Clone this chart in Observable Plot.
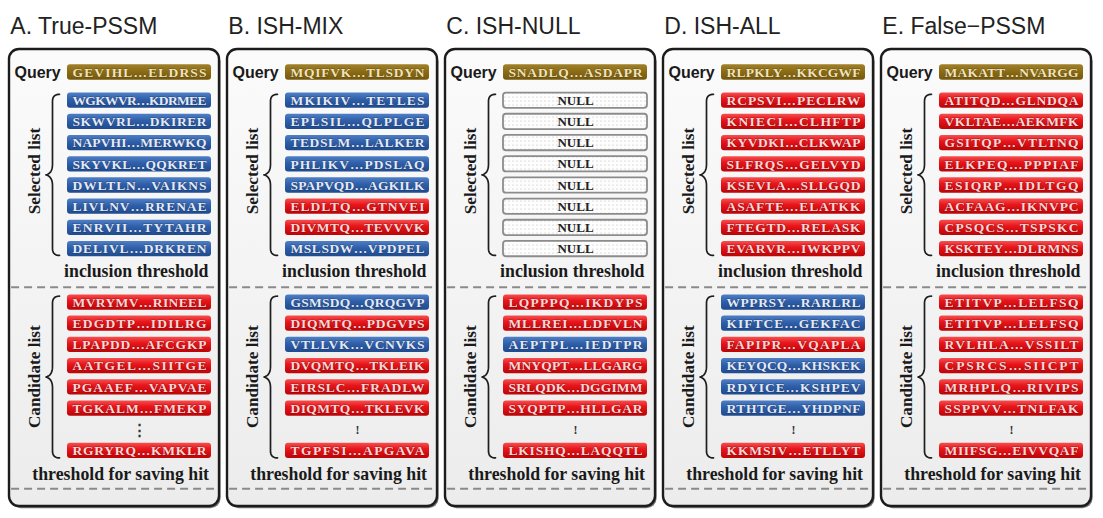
<!DOCTYPE html>
<html><head><meta charset="utf-8">
<script src="https://cdn.jsdelivr.net/npm/d3@7"></script>
<script src="https://cdn.jsdelivr.net/npm/@observablehq/plot@0.6"></script>
<style>body{margin:0;background:#fff}#chart svg{display:block}</style>
</head><body><div id="chart"></div>
<script>
// ---------------- data ----------------
const panelNames = ["A. True-PSSM", "B. ISH-MIX", "C. ISH-NULL", "D. ISH-ALL", "E. False\u2212PSSM"];
const querySeqs = ["GEVIHL…ELDRSS", "MQIFVK…TLSDYN", "SNADLQ…ASDAPR", "RLPKLY…KKCGWF", "MAKATT…NVARGG"];
const selectedSeqs = [
  ["WGKWVR…KDRMEE", "SKWVRL…DKIRER", "NAPVHI…MERWKQ", "SKYVKL…QQKRET", "DWLTLN…VAIKNS", "LIVLNV…RRENAE", "ENRVII…TYTAHR", "DELIVL…DRKREN"],
  ["MKIKIV…TETLES", "EPLSIL…QLPLGE", "TEDSLM…LALKER", "PHLIKV…PDSLAQ", "SPAPVQD…AGKILK", "ELDLTQ…GTNVEI", "DIVMTQ…TEVVVK", "MSLSDW…VPDPEL"],
  ["NULL", "NULL", "NULL", "NULL", "NULL", "NULL", "NULL", "NULL"],
  ["RCPSVI…PECLRW", "KNIECI…CLHFTP", "KYVDKI…CLKWAP", "SLFRQS…GELVYD", "KSEVLA…SLLGQD", "ASAFTE…ELATKK", "FTEGTD…RELASK", "EVARVR…IWKPPV"],
  ["ATITQD…GLNDQA", "VKLTAE…AEKMFK", "GSITQP…VTLTNQ", "ELKPEQ…PPPIAF", "ESIQRP…IDLTGQ", "ACFAAG…IKNVPC", "CPSQCS…TSPSKC", "KSKTEY…DLRMNS"]
];
const selectedKinds = ["BBBBBBBB", "BBBBBRRB", "NNNNNNNN", "RRRRRRRR", "RRRRRRRR"];
const candidateSeqs = [
  ["MVRYMV…RINEEL", "EDGDTP…IDILRG", "LPAPDD…AFCGKP", "AATGEL…SIITGE", "PGAAEF…VAPVAE", "TGKALM…FMEKP", "RGRYRQ…KMKLR"],
  ["GSMSDQ…QRQGVP", "DIQMTQ…PDGVPS", "VTLLVK…VCNVKS", "DVQMTQ…TKLEIK", "EIRSLC…FRADLW", "DIQMTQ…TKLEVK", "TGPFSI…APGAVA"],
  ["LQPPPQ…IKDYPS", "MLLREI…LDFVLN", "AEPTPL…IEDTPR", "MNYQPT…LLGARG", "SRLQDK…DGGIMM", "SYQPTP…HLLGAR", "LKISHQ…LAQQTL"],
  ["WPPRSY…RARLRL", "KIFTCE…GEKFAC", "FAPIPR…VQAPLA", "KEYQCQ…KHSKEK", "RDYICE…KSHPEV", "RTHTGE…YHDPNF", "KKMSIV…ETLLYT"],
  ["ETITVP…LELFSQ", "ETITVP…LELFSQ", "RVLHLA…VSSILT", "CPSRCS…SIICPT", "MRHPLQ…RIVIPS", "SSPPVV…TNLFAK", "MIIFSG…EIVVQAF"]
];
const candidateKinds = ["RRRRRRR", "BRBRRRR", "RRBRRRR", "BBRBBBR", "RRRRRRR"];
const gapGlyphs = ["⋮", "!", "!", "!", "!"];
const labelQuery = "Query";
const labelSelected = "Selected list";
const labelCandidate = "Candidate list";
const labelInclusion = "inclusion threshold";
const labelSaving = "threshold for saving hit";

// ---------------- layout (panel units: 100 = panel width; y in row slots) ----------------
const PX = 2.1;                 // px per x unit
const PITCH = 218 / PX;         // panel pitch in x units
const ROW = 21.2;               // px per row slot
const BAR_X1 = 58 / PX, BAR_X2 = 202 / PX, BAR_H = 0.36;
const SEL0 = 1.33, CAND0 = 10.85;
const off = i => i * PITCH;

const panels = panelNames.map((name, i) => ({i, name, x0: off(i)}));
const bars = [];
panels.forEach(p => {
  bars.push({i: p.i, kind: "Q", seq: querySeqs[p.i], y: 0});
  selectedSeqs[p.i].forEach((s, j) => bars.push({i: p.i, kind: selectedKinds[p.i][j], seq: s, y: SEL0 + j}));
  candidateSeqs[p.i].forEach((s, j) => bars.push({i: p.i, kind: candidateKinds[p.i][j], seq: s, y: CAND0 + (j < 6 ? j : 7)}));
});
bars.forEach(b => { b.x1 = off(b.i) + BAR_X1; b.x2 = off(b.i) + BAR_X2; b.xm = (b.x1 + b.x2) / 2; });

function brace(id, x0, top, bottom) {
  const hook = x0 + 50 / PX, vert = x0 + 43 / PX, cusp = x0 + 36.5 / PX;
  const mid = (top + bottom) / 2, re = 0.33, rm = 0.5;
  const pts = [];
  const quad = (a, c, b) => {
    for (let k = 0; k <= 10; k++) {
      const t = k / 10;
      pts.push({id, x: (1 - t) ** 2 * a[0] + 2 * (1 - t) * t * c[0] + t * t * b[0],
                    y: (1 - t) ** 2 * a[1] + 2 * (1 - t) * t * c[1] + t * t * b[1]});
    }
  };
  quad([hook, top], [vert, top], [vert, top + re]);
  quad([vert, mid - rm], [vert, mid - 0.08], [cusp, mid]);
  quad([cusp, mid], [vert, mid + 0.08], [vert, mid + rm]);
  quad([vert, bottom - re], [vert, bottom], [hook, bottom]);
  return pts;
}
const braces = panels.flatMap(p => [
  ...brace(p.i + "s", p.x0, SEL0 - 0.3, SEL0 + 7 + 0.3),
  ...brace(p.i + "c", p.x0, CAND0 - 0.3, CAND0 + 7 + 0.33)
]);
const dashes = panels.flatMap(p => [{x1: p.x0 + 1, x2: p.x0 + 98.6, y: 10.13}, {x1: p.x0 + 1, x2: p.x0 + 98.6, y: 19.64}]);

const seqFont = "Liberation Serif, Times New Roman, serif";
const chart = Plot.plot({
  width: 1103, height: 518, margin: 0,
  x: {domain: [-9 / PX, 1094 / PX], range: [0, 1103], axis: null},
  y: {domain: [-72 / ROW, (518 - 72) / ROW], range: [0, 518], axis: null},
  style: {background: "#fff", overflow: "visible"},
  marks: [
    Plot.rect(panels, {x1: d => d.x0, x2: d => d.x0 + 100, y1: -1.085, y2: 20.47, rx: 10, fill: "#777", dx: 1.6, dy: 2.2}),
    Plot.rect(panels, {x1: d => d.x0, x2: d => d.x0 + 100, y1: -1.085, y2: 20.47, rx: 10, fill: "url(#gBox)", stroke: "#1c1c1c", strokeWidth: 2.4}),
    Plot.text(panels, {x: d => d.x0 + 0.4, y: -2.15, text: "name", textAnchor: "start", fontSize: 23, fontFamily: "Liberation Sans, Arial, sans-serif", fill: "#222"}),
    Plot.text(panels, {x: d => d.x0 + 5 / PX, y: 0, text: () => labelQuery, textAnchor: "start", fontSize: 16, fontWeight: "bold", fontFamily: "Liberation Sans, Arial, sans-serif", fill: "#1a1a1a"}),
    Plot.rect(bars.filter(d => d.kind === "Q"), {x1: "x1", x2: "x2", y1: d => d.y - BAR_H, y2: d => d.y + BAR_H, rx: 3, fill: "url(#gQ)"}),
    Plot.rect(bars.filter(d => d.kind === "B"), {x1: "x1", x2: "x2", y1: d => d.y - BAR_H, y2: d => d.y + BAR_H, rx: 3, fill: "url(#gB)"}),
    Plot.rect(bars.filter(d => d.kind === "R"), {x1: "x1", x2: "x2", y1: d => d.y - BAR_H, y2: d => d.y + BAR_H, rx: 3, fill: "url(#gR)"}),
    Plot.rect(bars.filter(d => d.kind === "N"), {x1: "x1", x2: "x2", y1: d => d.y - BAR_H, y2: d => d.y + BAR_H, rx: 3, fill: "url(#pNull)", stroke: "#8c8c8c", strokeWidth: 1.8}),
    Plot.text(bars.filter(d => d.kind === "Q"), {x: "xm", y: "y", text: "seq", fontSize: 13.5, fontWeight: "bold", fontFamily: seqFont, fill: "#efe3bd", stroke: "rgba(40,25,0,0.35)", strokeWidth: 1, paintOrder: "stroke"}),
    Plot.text(bars.filter(d => d.kind === "B"), {x: "xm", y: "y", text: "seq", fontSize: 13.5, fontWeight: "bold", fontFamily: seqFont, fill: "#e4eaf5", stroke: "rgba(0,10,40,0.35)", strokeWidth: 1, paintOrder: "stroke"}),
    Plot.text(bars.filter(d => d.kind === "R"), {x: "xm", y: "y", text: "seq", fontSize: 13.5, fontWeight: "bold", fontFamily: seqFont, fill: "#f8d8d8", stroke: "rgba(60,0,0,0.35)", strokeWidth: 1, paintOrder: "stroke"}),
    Plot.text(bars.filter(d => d.kind === "N"), {x: "xm", y: "y", text: "seq", fontSize: 13, fontWeight: "bold", fontFamily: seqFont, fill: "#222"}),
    Plot.text(panels, {x: d => d.x0 + BAR_X1 + (BAR_X2 - BAR_X1) / 2, y: CAND0 + 6, text: d => gapGlyphs[d.i], fontSize: d => d.i === 0 ? 15 : 12, fontWeight: "bold", fontFamily: seqFont, fill: "#333"}),
    Plot.line(braces, {x: "x", y: "y", z: "id", stroke: "#1e1e1e", strokeWidth: 1.7}),
    Plot.text(panels, {x: d => d.x0 + 25 / PX, y: SEL0 + 3.5 - 0.18, text: () => labelSelected, rotate: -90, fontSize: 17.2, fontWeight: "bold", fontFamily: seqFont, fill: "#1a1a1a"}),
    Plot.text(panels, {x: d => d.x0 + 25 / PX, y: CAND0 + 3.5, text: () => labelCandidate, rotate: -90, fontSize: 17.2, fontWeight: "bold", fontFamily: seqFont, fill: "#1a1a1a"}),
    Plot.text(panels, {x: d => d.x0 + 199 / PX, y: 9.4, text: () => labelInclusion, textAnchor: "end", fontSize: 17.8, fontWeight: "bold", fontFamily: seqFont, fill: "#1a1a1a"}),
    Plot.text(panels, {x: d => d.x0 + 199.5 / PX, y: 18.96, text: () => labelSaving, textAnchor: "end", fontSize: 17.8, fontWeight: "bold", fontFamily: seqFont, fill: "#1a1a1a"}),
    Plot.ruleY(dashes, {y: "y", x1: "x1", x2: "x2", stroke: "#8a8a8a", strokeWidth: 2, strokeDasharray: "8,5"})
  ]
});
document.getElementById("chart").append(chart);

// gradients & pattern
const svg = d3.select(chart);
const defs = svg.insert("defs", ":first-child");
function grad(id, stops) {
  const g = defs.append("linearGradient").attr("id", id).attr("x1", 0).attr("y1", 0).attr("x2", 0).attr("y2", 1);
  stops.forEach(([o, c]) => g.append("stop").attr("offset", o).attr("stop-color", c));
}
grad("gB", [[0, "#4f7fc6"], [0.45, "#2f5fa9"], [1, "#1f4a8e"]]);
grad("gR", [[0, "#f65050"], [0.4, "#e8161b"], [1, "#bb0407"]]);
grad("gQ", [[0, "#a1802a"], [0.5, "#8a6a14"], [1, "#74580c"]]);
grad("gBox", [[0, "#fbfbfb"], [1, "#ececec"]]);
const pat = defs.append("pattern").attr("id", "pNull").attr("width", 4).attr("height", 4).attr("patternUnits", "userSpaceOnUse");
pat.append("rect").attr("width", 4).attr("height", 4).attr("fill", "#fdfdfd");
pat.append("circle").attr("cx", 1).attr("cy", 1).attr("r", 0.55).attr("fill", "#b5b5b5");

// stretch sequence text across bars
const xs = chart.scale("x");
const barW = xs.apply(BAR_X2) - xs.apply(BAR_X1);
svg.selectAll("text").filter(function () { return this.textContent.includes("…"); })
  .attr("textLength", barW - 10).attr("lengthAdjust", "spacing");
</script>
</body></html>
